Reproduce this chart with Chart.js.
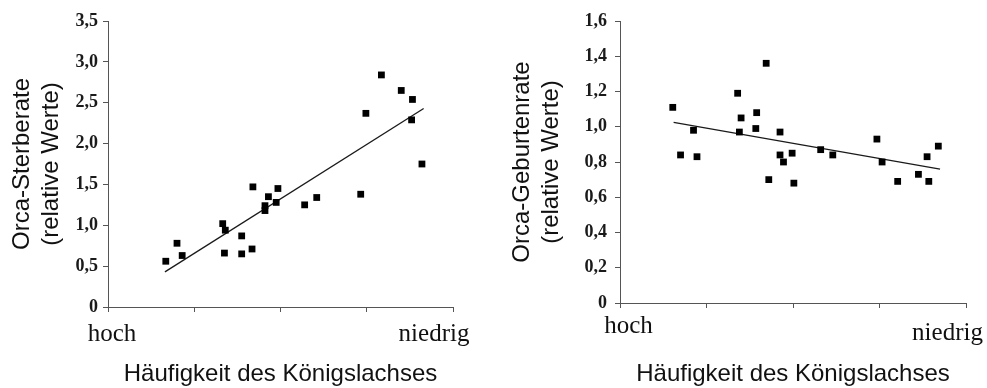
<!DOCTYPE html>
<html>
<head>
<meta charset="utf-8">
<script src="https://cdn.jsdelivr.net/npm/chart.js@4.4.0/dist/chart.umd.min.js"></script>
<style>
html,body{margin:0;padding:0;background:#fff;}
#wrap{position:relative;width:987px;height:388px;overflow:hidden;}
.box{position:absolute;top:0;height:388px;}
#b1{left:0;width:490px;}
#b2{left:490px;width:497px;}
</style>
</head>
<body>
<div id="wrap">
  <div class="box" id="b1"><canvas id="c1" width="490" height="388"></canvas></div>
  <div class="box" id="b2"><canvas id="c2" width="497" height="388"></canvas></div>
</div>
<script>
// ---------- data ----------
// Left chart: Orca-Sterberate vs. Häufigkeit des Königslachses
const sterbeX = [0.67, 0.80, 0.86, 1.33, 1.36, 1.35, 1.55, 1.55, 1.67, 1.68, 1.82, 1.82, 1.86, 1.95, 1.97, 2.28, 2.42, 2.93, 2.99, 3.17, 3.40, 3.53, 3.52, 3.64];
const sterbeY = [0.56, 0.78, 0.63, 1.02, 0.94, 0.66, 0.87, 0.65, 0.71, 1.47, 1.24, 1.18, 1.35, 1.28, 1.45, 1.25, 1.34, 1.38, 2.37, 2.84, 2.65, 2.54, 2.29, 1.75];
const sterbeTrendX = [0.66, 3.66];
const sterbeTrendY = [0.43, 2.43];
const sterbeTicks = [0, 0.5, 1.0, 1.5, 2.0, 2.5, 3.0, 3.5];
const sterbeTickLabels = ['0', '0,5', '1,0', '1,5', '2,0', '2,5', '3,0', '3,5'];

// Right chart: Orca-Geburtenrate vs. Häufigkeit des Königslachses
const geburtX = [0.61, 0.70, 0.85, 0.89, 1.36, 1.40, 1.38, 1.57, 1.58, 1.69, 1.72, 1.85, 1.85, 1.89, 1.99, 2.01, 2.32, 2.46, 2.97, 3.03, 3.21, 3.45, 3.55, 3.57, 3.68];
const geburtY = [1.11, 0.84, 0.98, 0.83, 1.19, 1.05, 0.97, 0.99, 1.08, 1.36, 0.70, 0.97, 0.84, 0.80, 0.85, 0.68, 0.87, 0.84, 0.93, 0.80, 0.69, 0.73, 0.83, 0.69, 0.89];
const geburtTrendX = [0.62, 3.70];
const geburtTrendY = [1.025, 0.76];
const geburtTicks = [0, 0.2, 0.4, 0.6, 0.8, 1.0, 1.2, 1.4, 1.6];
const geburtTickLabels = ['0', '0,2', '0,4', '0,6', '0,8', '1,0', '1,2', '1,4', '1,6'];

// x axis: abstract scale, ends labelled
const xTicks = [0, 1, 2, 3, 4];
const xEndLabels = ['hoch', 'niedrig'];
const xTitle = 'Häufigkeit des Königslachses';
const yTitleLeft = ['Orca-Sterberate', '(relative Werte)'];
const yTitleRight = ['Orca-Geburtenrate', '(relative Werte)'];

// ---------- helpers ----------
const AXIS = '#555';
const TEXT = '#111';

const endLabelPlugin = {
  id: 'endLabels',
  afterDraw(chart, args, opts) {
    const ctx = chart.ctx;
    const xs = chart.scales.x;
    const bottom = chart.chartArea.bottom;
    ctx.save();
    ctx.font = '25px "Liberation Serif", "Times New Roman", serif';
    ctx.fillStyle = TEXT;
    ctx.textAlign = 'center';
    ctx.textBaseline = 'alphabetic';
    ctx.fillText(xEndLabels[0], xs.getPixelForValue(xTicks[0]) + opts.dx0, bottom + opts.dy0);
    ctx.fillText(xEndLabels[1], xs.getPixelForValue(xTicks[xTicks.length - 1]) + opts.dx1, bottom + opts.dy1);
    ctx.restore();
  }
};

function makeChart(canvasId, xs, ys, trendX, trendY, yTicks, yTickLabels, yTitle, cfg) {
  const pts = xs.map((x, i) => ({ x: x, y: ys[i] }));
  const trend = trendX.map((x, i) => ({ x: x, y: trendY[i] }));
  return new Chart(document.getElementById(canvasId), {
    type: 'scatter',
    data: {
      datasets: [
        {
          type: 'line',
          data: trend,
          borderColor: '#1a1a1a',
          borderWidth: 1.3,
          pointRadius: 0,
          fill: false,
          order: 2
        },
        {
          data: pts,
          pointStyle: 'rect',
          pointRadius: 4.8,
          pointBorderWidth: 0,
          pointBackgroundColor: '#000',
          pointBorderColor: '#000',
          order: 1
        }
      ]
    },
    plugins: [endLabelPlugin],
    options: {
      responsive: false,
      animation: false,
      events: [],
      layout: { padding: cfg.padding },
      plugins: {
        legend: { display: false },
        tooltip: { enabled: false },
        endLabels: cfg.endLabels
      },
      scales: {
        x: {
          type: 'linear',
          min: xTicks[0],
          max: xTicks[xTicks.length - 1],
          afterBuildTicks: (s) => { s.ticks = xTicks.map(v => ({ value: v })); },
          afterFit: (s) => { s.height = cfg.xHeight; },
          ticks: { callback: () => '', font: { size: 10 } },
          grid: { display: true, drawOnChartArea: false, drawTicks: true, tickLength: 5, color: AXIS, lineWidth: 1 },
          border: { display: true, color: AXIS, width: 1 },
          title: {
            display: true,
            text: xTitle,
            color: TEXT,
            font: { family: '"Liberation Sans", Arial, sans-serif', size: 24, lineHeight: 1.0 },
            padding: { top: 0, bottom: cfg.xTitlePad }
          }
        },
        y: {
          type: 'linear',
          min: yTicks[0],
          max: yTicks[yTicks.length - 1],
          afterBuildTicks: (s) => { s.ticks = yTicks.map(v => ({ value: v })); },
          afterFit: (s) => { s.width = cfg.yWidth; },
          ticks: {
            callback: (v, i) => yTickLabels[i],
            color: '#1a1a1a',
            padding: cfg.yTickPad,
            font: { family: '"Liberation Serif", "Times New Roman", serif', size: 18, weight: 'bold' }
          },
          grid: { display: true, drawOnChartArea: false, drawTicks: true, tickLength: 5, color: AXIS, lineWidth: 1 },
          border: { display: true, color: AXIS, width: 1 },
          title: {
            display: true,
            text: yTitle,
            color: TEXT,
            font: { family: '"Liberation Sans", Arial, sans-serif', size: 24, lineHeight: 29 / 24 },
            padding: { top: cfg.yTitlePad, bottom: 0 }
          }
        }
      }
    }
  });
}

makeChart('c1', sterbeX, sterbeY, sterbeTrendX, sterbeTrendY, sterbeTicks, sterbeTickLabels, yTitleLeft, {
  padding: { left: 0, right: 37, top: 21, bottom: 0 },
  xHeight: 81,
  yWidth: 108,
  yTickPad: 5,
  yTitlePad: 7.5,
  xTitlePad: 2,
  endLabels: { dx0: 4, dy0: 33.5, dx1: -19, dy1: 33.5 }
});

makeChart('c2', geburtX, geburtY, geburtTrendX, geburtTrendY, geburtTicks, geburtTickLabels, yTitleRight, {
  padding: { left: 0, right: 21, top: 21, bottom: 0 },
  xHeight: 85,
  yWidth: 130,
  yTickPad: 8,
  yTitlePad: 18,
  xTitlePad: 2,
  endLabels: { dx0: 8.5, dy0: 30, dx1: -18.5, dy1: 37 }
});
</script>
</body>
</html>
